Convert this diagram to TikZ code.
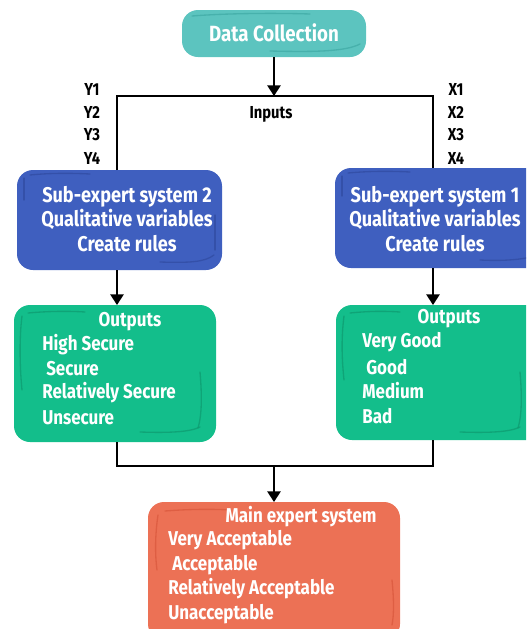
\documentclass[tikz,border=0pt]{standalone}
\usepackage{fontspec}
\setmainfont{Fira Sans}[UprightFont=* Bold, BoldFont=* Bold, FakeStretch=0.85]
\usetikzlibrary{arrows.meta}
\definecolor{teal1}{HTML}{5CC4BF}
\definecolor{teal2}{HTML}{3FA9A4}
\definecolor{blue1}{HTML}{3F5FBF}
\definecolor{blue2}{HTML}{304BA0}
\definecolor{green1}{HTML}{13BE8B}
\definecolor{green2}{HTML}{0E9A6F}
\definecolor{red1}{HTML}{EC7155}
\definecolor{red2}{HTML}{D9573C}
\tikzset{
  box/.style={rounded corners=12pt, inner sep=0pt},
  lbl/.style={font=\fontsize{15}{18.4}\selectfont, text=white, inner sep=0pt},
  blbl/.style={font=\fontsize{16}{18.4}\selectfont, text=white, inner sep=0pt, align=center},
  dlbl/.style={font=\fontsize{13}{15}\selectfont, text=black, inner sep=0pt},
  conn/.style={line width=1.3pt, black},
  arr/.style={conn, -{Triangle[width=10pt,length=8pt]}},
  sketch/.style={line width=1pt, line cap=round, opacity=0.7}
}
\begin{document}
\begin{tikzpicture}[x=0.75pt,y=-0.75pt]
\useasboundingbox (0,0) rectangle (526,629);
\clip (0,0) rectangle (526,629);
% boxes
\fill[teal1, box] (182,10) rectangle (366,57);
\draw[teal2, sketch] (192,16) .. controls (230,13) and (280,13) .. (310,14);
\draw[teal2, sketch] (270,51) .. controls (310,52) and (345,52) .. (360,44);
\node[blbl, font=\fontsize{16.5}{18}\selectfont] (dc) at (274,33) {Data Collection};
\coordinate (dcb) at (274,57);

\fill[blue1, box] (17,170) rectangle (222,270);
\draw[blue2, sketch] (24,178) -- (24,200);
\draw[blue2, sketch] (30,175) .. controls (50,173) and (70,173) .. (90,174);
\draw[blue2, sketch] (160,262) .. controls (190,263) and (205,262) .. (214,255);
\draw[blue2, sketch] (215,215) -- (215,250);
\node[blbl] (s2) at (127,219) {Sub-expert system 2\\Qualitative variables\\Create rules};

\fill[blue1, box] (335,168) rectangle (560,268);
\draw[blue2, sketch] (342,176) -- (342,196);
\draw[blue2, sketch] (348,173) .. controls (370,171) and (390,171) .. (410,172);
\draw[blue2, sketch] (480,260) .. controls (500,261) and (515,260) .. (526,258);
\node[blbl] (s1) at (435,219) {Sub-expert system 1\\Qualitative variables\\Create rules};

\fill[green1, box] (14,305) rectangle (216,442);
\draw[green2, sketch] (22,316) .. controls (19,340) and (20,370) .. (22,390);
\draw[green2, sketch] (28,313) .. controls (50,311) and (70,311) .. (85,312);
\draw[green2, sketch] (200,372) .. controls (202,395) and (202,415) .. (198,428);
\draw[green2, sketch] (140,432) .. controls (170,433) and (190,432) .. (200,427);
\fill[green1, box] (336,305) rectangle (560,440);
\draw[green2, sketch] (344,316) .. controls (341,340) and (342,360) .. (344,380);
\draw[green2, sketch] (350,313) .. controls (370,311) and (385,311) .. (400,312);
\draw[green2, sketch] (520,372) .. controls (522,395) and (522,415) .. (518,428);
\draw[green2, sketch] (460,432) .. controls (490,433) and (510,432) .. (520,427);

\fill[red1, box] (148,502) rectangle (400,640);
\draw[red2, sketch] (158,515) .. controls (155,535) and (155,555) .. (157,570);
\draw[red2, sketch] (165,511) .. controls (190,509) and (215,509) .. (230,510);
\draw[red2, sketch] (392,580) .. controls (394,600) and (394,615) .. (392,625);

% green text
\node[lbl] (o2) at (130,322) {Outputs};
\node[lbl, anchor=west] (o2a) at (42,345) {High Secure};
\node[lbl, anchor=west] (o2b) at (46,369) {Secure};
\node[lbl, anchor=west] (o2c) at (42,393) {Relatively Secure};
\node[lbl, anchor=west] (o2d) at (42,418) {Unsecure};
\node[lbl] (o1) at (449,319) {Outputs};
\node[lbl, anchor=west] (o1a) at (362,342) {Very Good};
\node[lbl, anchor=west] (o1b) at (366,367) {Good};
\node[lbl, anchor=west] (o1c) at (362,391) {Medium};
\node[lbl, anchor=west] (o1d) at (362,416) {Bad};
% red text
\node[lbl] (m) at (301,517) {Main expert system};
\node[lbl, anchor=west] (ma) at (168,540) {Very Acceptable};
\node[lbl, anchor=west] (mb) at (172,565) {Acceptable};
\node[lbl, anchor=west] (mc) at (168,589) {Relatively Acceptable};
\node[lbl, anchor=west] (md) at (168,614) {Unacceptable};

% inputs labels
\node[dlbl] (in) at (271,114) {Inputs};
\foreach \i/\y in {1/89,2/112,3/135,4/158}{
  \node[dlbl] (y\i) at (92,\y) {Y\i};
  \node[dlbl] (x\i) at (456,\y) {X\i};
}

% connectors
\coordinate (jt) at (274,96);
\coordinate (jl) at (117,96);
\coordinate (jr) at (433,96);
\coordinate (s2t) at (117,170);
\coordinate (s1t) at (433,168);
\coordinate (s2b) at (117,270);
\coordinate (s1b) at (433,268);
\coordinate (o2t) at (117,305);
\coordinate (o1t) at (433,305);
\coordinate (o2bb) at (117,442);
\coordinate (o1bb) at (433,440);
\coordinate (jb) at (274,466);
\coordinate (jbl) at (117,466);
\coordinate (jbr) at (433,466);
\coordinate (mt) at (274,502);
\draw[arr] (dcb) -- (jt);
\draw[conn] (s2t) -- (jl) -- (jr) -- (s1t);
\draw[arr] (s2b) -- (o2t);
\draw[arr] (s1b) -- (o1t);
\draw[conn] (o2bb) -- (jbl) -- (jbr) -- (o1bb);
\draw[arr] (jb) -- (mt);
\end{tikzpicture}
\end{document}
